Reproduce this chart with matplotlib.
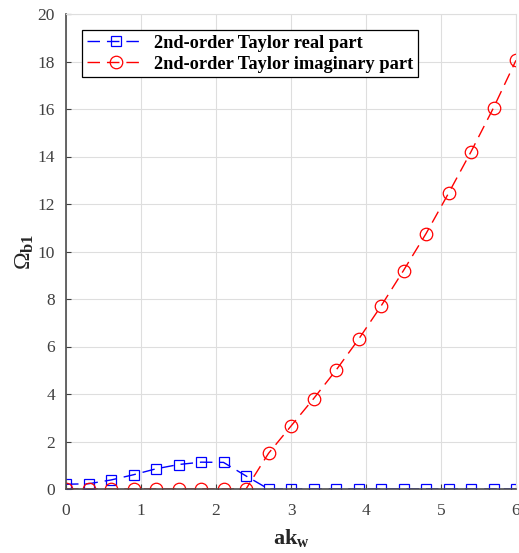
import numpy as np
import matplotlib.pyplot as plt

plt.rcParams['font.family'] = ['Liberation Serif', 'DejaVu Serif']
plt.rcParams['mathtext.fontset'] = 'custom'
plt.rcParams['mathtext.rm'] = 'Liberation Serif'
plt.rcParams['mathtext.it'] = 'Liberation Serif:italic'
plt.rcParams['mathtext.bf'] = 'Liberation Serif:bold'

# data
ak_w = [0.0, 0.3, 0.6, 0.9, 1.2, 1.5, 1.8, 2.1, 2.4, 2.7, 3.0,
        3.3, 3.6, 3.9, 4.2, 4.5, 4.8, 5.1, 5.4, 5.7, 6.0]
real_part = [0.2, 0.22, 0.38, 0.6, 0.85, 1.03, 1.13, 1.12, 0.55, 0.0, 0.0,
             0.0, 0.0, 0.0, 0.0, 0.0, 0.0, 0.0, 0.0, 0.0, 0.0]
imag_part = [0.0, 0.0, 0.0, 0.0, 0.0, 0.0, 0.0, 0.0, 0.0, 1.5, 2.65,
             3.8, 5.0, 6.3, 7.7, 9.2, 10.75, 12.45, 14.2, 16.05, 18.05]

fig = plt.figure(figsize=(5.19, 5.53), dpi=100)
ax = fig.add_axes([66/519, (553-489)/553, 450/519, 475/553])

ax.plot(ak_w, real_part, color='blue', linestyle=(0, (9, 5)), linewidth=1.0,
        marker='s', markersize=7, markerfacecolor='none', markeredgewidth=0.9,
        label='2nd-order Taylor real part')
ax.plot(ak_w, imag_part, color='red', linestyle=(0, (9, 5)), linewidth=1.0,
        marker='o', markersize=9, markerfacecolor='none', markeredgewidth=0.9,
        label='2nd-order Taylor imaginary part')

ax.set_xlim(0, 6)
ax.set_ylim(0, 20)
ax.set_xticks(range(0, 7))
ax.set_yticks(range(0, 21, 2))
ax.grid(True, color='#dedede', linewidth=0.8)
ax.set_axisbelow(True)
ax.tick_params(direction='in', length=3.5, width=0.8, labelsize=12.5,
               colors='#404040', labelcolor='#404040')
ax.tick_params(axis='x', pad=10)
ax.tick_params(axis='y', pad=8)
for side in ['left', 'bottom']:
    ax.spines[side].set_linewidth(1.2)
    ax.spines[side].set_color('#4d4d4d')
for side in ['top', 'right']:
    ax.spines[side].set_linewidth(0.8)
    ax.spines[side].set_color('#dedede')

ax.set_xlabel(r'$\mathbf{ak}_{\mathbf{w}}$', fontsize=16, labelpad=6, color='#262626')
ax.set_ylabel(r'$\Omega_{\mathbf{b1}}$', fontsize=17, labelpad=1, color='#262626')

leg = ax.legend(loc='upper left', bbox_to_anchor=(16/450, 1 - 16/475),
                prop={'weight': 'bold', 'size': 13.2},
                fancybox=False, edgecolor='black', framealpha=1, handlelength=3.2,
                borderpad=0.25, labelspacing=0.22, handletextpad=0.5, borderaxespad=0)
leg.get_frame().set_linewidth(0.9)

fig.savefig('out.png', dpi=100)
